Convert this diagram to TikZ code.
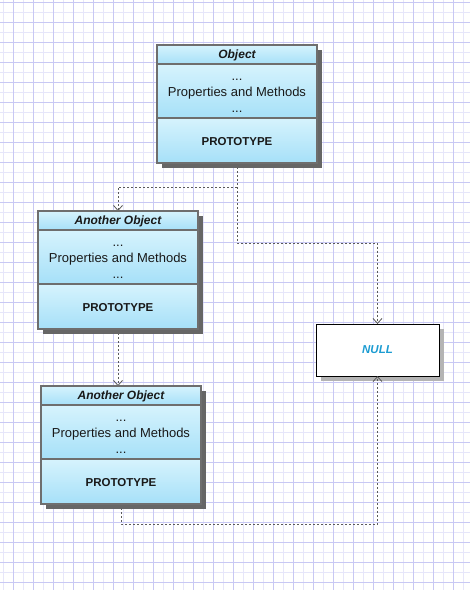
\documentclass[tikz,border=0pt]{standalone}
\usepackage{fontspec}
\setmainfont{Liberation Sans}
\usetikzlibrary{arrows.meta, positioning}
\definecolor{gridmajor}{HTML}{C8C8F4}
\definecolor{gridminor}{HTML}{E6E6FA}
\definecolor{boxtop}{HTML}{D6F3FD}
\definecolor{boxbottom}{HTML}{A6E0F8}
\definecolor{boxedge}{HTML}{6E6E6E}
\definecolor{shadowdark}{HTML}{666666}
\definecolor{shadowlight}{HTML}{B4B4B4}
\definecolor{nulltext}{HTML}{1C9CD2}
\definecolor{linkgray}{HTML}{5A5A5A}
\tikzset{
  minor grid/.style={gridminor, line width=1pt},
  major grid/.style={gridmajor, line width=1pt},
  box shadow/.style={fill=shadowdark},
  null shadow/.style={fill=shadowlight},
  box part/.style={top color=boxtop, bottom color=boxbottom},
  box edge/.style={draw=boxedge, line width=1.6pt},
  box frame/.style={box edge, inner sep=0pt, outer sep=0pt, minimum width=160pt, minimum height=118pt},
  title text/.style={font=\fontsize{12}{14}\selectfont\bfseries\itshape, text=black!90},
  body text/.style={font=\fontsize{13}{16}\selectfont, anchor=base, inner sep=0pt, text=black!90},
  proto text/.style={font=\fontsize{11.5}{14}\selectfont\bfseries, text=black!90},
  null box/.style={draw=black, line width=1pt, fill=white, inner sep=0pt, outer sep=0pt, minimum width=123pt, minimum height=52pt},
  null text/.style={font=\fontsize{11.5}{14}\selectfont\bfseries\itshape, text=nulltext},
  link line/.style={linkgray, line width=0.8pt, dash pattern=on 2pt off 2pt, -{Straight Barb[length=5pt, width=9pt]}},
}
% #1 name, #2/#3 top left corner, #4 title
\newcommand{\protoBox}[4]{
  \fill[box shadow] (#2+5,#3+5) rectangle ++(160,118);
  \fill[box part] (#2,#3) rectangle ++(160,19);
  \fill[box part] (#2,#3+19) rectangle ++(160,54);
  \fill[box part] (#2,#3+73) rectangle ++(160,45);
  \node[box frame, anchor=north west] (#1) at (#2,#3) {};
  \draw[box edge] (#2,#3+19) -- ++(160,0) (#2,#3+73) -- ++(160,0);
  \node[title text] (#1-title) at (#2+80,#3+10) {#4};
  \node[body text] (#1-dotsa) at (#2+80,#3+35) {...};
  \node[body text] (#1-body) at (#2+80,#3+51.5) {Properties and Methods};
  \node[body text] (#1-dotsb) at (#2+80,#3+67) {...};
  \node[proto text] (#1-proto) at (#2+80,#3+97) {PROTOTYPE};
}

\begin{document}
\begin{tikzpicture}[x=1pt, y=-1pt]
  \useasboundingbox (0,0) rectangle (470,590);
  \fill[white] (0,0) rectangle (470,590);
  % grid paper
  \foreach \gx in {3,23,...,470} \draw[minor grid] (\gx,0) -- (\gx,590);
  \foreach \gy in {12,32,...,590} \draw[minor grid] (0,\gy) -- (470,\gy);
  \foreach \gx in {13,33,...,470} \draw[major grid] (\gx,0) -- (\gx,590);
  \foreach \gy in {2,22,...,590} \draw[major grid] (0,\gy) -- (470,\gy);

  % boxes are named first, links drawn under them
  \path (157,45) coordinate (obj-corner) (38,211) coordinate (ao1-corner)
        (41,386) coordinate (ao2-corner);
  \node[anchor=north west, minimum width=160pt, minimum height=118pt, inner sep=0pt, outer sep=0pt] (obj) at (obj-corner) {};
  \node[anchor=north west, minimum width=160pt, minimum height=118pt, inner sep=0pt, outer sep=0pt] (ao1) at (ao1-corner) {};
  \node[anchor=north west, minimum width=160pt, minimum height=118pt, inner sep=0pt, outer sep=0pt] (ao2) at (ao2-corner) {};
  \fill[null shadow] (321,329) rectangle ++(123,52);
  \node[null box, anchor=north west] (null) at (316,324) {};
  \node[null text] (null-label) at (null.center) {NULL};

  \draw[link line] (obj.south) -- ++(0,24) -| (ao1.north);
  \draw[link line] (obj.south) -- ++(0,80) -| (null.north);
  \draw[link line] (ao1.south) -- (ao1.south |- ao2.north);
  \draw[link line] (ao2.south) -- ++(0,20) -| (null.south);

  \protoBox{obj}{157}{45}{Object}
  \protoBox{ao1}{38}{211}{Another Object}
  \protoBox{ao2}{41}{386}{Another Object}
\end{tikzpicture}
\end{document}
